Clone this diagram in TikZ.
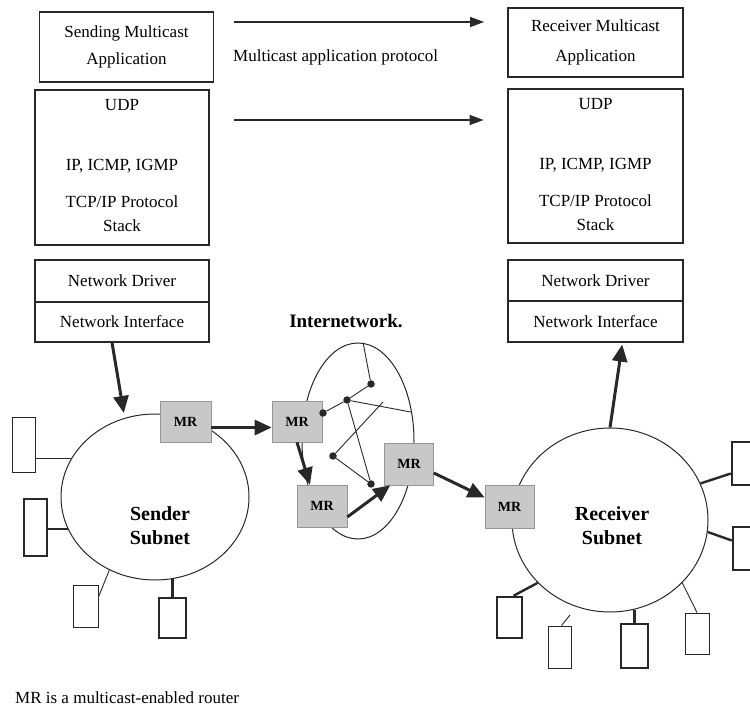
\documentclass[tikz,border=0pt]{standalone}
\usepackage{fontspec}
\setmainfont{Liberation Serif}
\usetikzlibrary{arrows.meta,shapes.geometric}
\definecolor{ink}{RGB}{40,40,40}
\definecolor{mrgray}{RGB}{200,200,200}
\tikzset{
  layer/.style={draw=ink,line width=1.2pt,minimum width=174pt,align=center,inner sep=0pt},
  router/.style={draw=mrgray!75!black,fill=mrgray,line width=0.6pt,minimum width=50pt,
    minimum height=42pt,font=\fontsize{14}{16}\selectfont\bfseries},
  subnet/.style={ellipse,draw=ink,line width=1pt,inner sep=0pt},
  hostthin/.style={draw=ink,line width=0.9pt,inner sep=0pt},
  hostthick/.style={draw=ink,line width=2.4pt,inner sep=0pt},
  peer/.style={ink,line width=1.2pt,-{Triangle[length=14pt,width=10pt]}},
  flow/.style={ink,line width=3pt,-{Triangle[length=17pt,width=15pt]}},
  hop/.style={circle,fill=ink,inner sep=0pt,minimum size=7.5pt},
  wire/.style={ink,line width=0.9pt},
  fatwire/.style={ink,line width=2.4pt},
  subtitle/.style={align=center,font=\fontsize{20}{24}\selectfont\bfseries},
}

\begin{document}
\begin{tikzpicture}[x=1pt,y=-1pt,font=\fontsize{17}{24}\selectfont]
  \useasboundingbox (0,0) rectangle (750,708);
  \clip (0,0) rectangle (750,708);

  % ---- sending host stack ----
  \node[layer,minimum height=70pt] (sapp) at (126.5,47) {Sending Multicast\\[3pt]Application};
  \node[layer,minimum height=155pt] (sstk) at (122,167.5) {};
  \node[align=center,inner sep=0pt,anchor=north] (sstktxt) at ([yshift=-10pt]sstk.north)
    {UDP\\[36pt]IP, ICMP, IGMP\\[13pt]TCP/IP Protocol\\Stack};
  \node[layer,minimum height=42pt] (sdrv) at (122,281) {Network Driver};
  \node[layer,minimum height=40pt] (snic) at (122,322) {Network Interface};

  % ---- receiving host stack ----
  \node[layer,minimum height=69pt,minimum width=175pt] (rapp) at (595.5,42.5) {Receiver Multicast\\[6pt]Application};
  \node[layer,minimum height=154pt,minimum width=175pt] (rstk) at (595.5,166) {};
  \node[align=center,inner sep=0pt,anchor=north] (rstktxt) at ([yshift=-10pt]rstk.north)
    {UDP\\[36pt]IP, ICMP, IGMP\\[13pt]TCP/IP Protocol\\Stack};
  \node[layer,minimum height=41pt,minimum width=175pt] (rdrv) at (595.5,280.5) {Network Driver};
  \node[layer,minimum height=41pt,minimum width=175pt] (rnic) at (595.5,321.5) {Network Interface};

  % ---- peer protocols ----
  \draw[peer] ([xshift=20pt,yshift=25pt]sapp.east) -- ++(250,0);
  \draw[peer] ([xshift=24pt,yshift=47.5pt]sstk.east) -- ++(250,0);
  \node[anchor=base west,inner sep=0pt] (proto) at (233,62) {Multicast application protocol};

  % ---- internetwork ----
  \node[anchor=base,inner sep=0pt,font=\fontsize{19}{22}\selectfont\bfseries] (inet) at (346,328) {Internetwork.};
  \node[subnet,minimum width=112pt,minimum height=196pt] (cloud) at (358,441) {};

  % ---- subnets ----
  \node[subnet,minimum width=188pt,minimum height=166pt] (ssub) at (155,497) {};
  \node[subtitle] (ssubtxt) at (160,526) {Sender\\Subnet};
  \node[subnet,minimum width=196pt,minimum height=184pt] (rsub) at (610,520) {};
  \node[subtitle] (rsubtxt) at (612,526) {Receiver\\Subnet};

  % ---- routers ----
  \node[router,minimum width=51pt,minimum height=41pt] (mr1) at (185.5,421.5) {MR};
  \node[router,minimum height=41pt] (mr2) at (297,421.5) {MR};
  \node[router] (mr3) at (322,506) {MR};
  \node[router,minimum width=49pt] (mr4) at (409,464) {MR};
  \node[router,minimum width=49pt,minimum height=43pt] (mr5) at (509.5,506.5) {MR};

  % ---- links inside the internetwork ----
  \node[hop] (n1) at (323,413) {};
  \node[hop] (n2) at (347,400) {};
  \node[hop] (n3) at (371,384) {};
  \node[hop] (n4) at (333,456) {};
  \node[hop] (n5) at (371,484) {};
  \coordinate (stub) at (383,402);
  \draw[wire] (n1) -- (n2) -- (n3) -- (cloud.87);
  \draw[wire] (n2) -- (cloud.28);
  \draw[wire] (n2) -- (n5) -- (n4) -- (stub);

  % ---- sender hosts ----
  \node[hostthin,minimum width=23pt,minimum height=55pt] (sh1) at (23.5,444.5) {};
  \node[hostthick,minimum width=23pt,minimum height=57pt] (sh2) at (35.5,527.5) {};
  \node[hostthin,minimum width=25pt,minimum height=42pt] (sh3) at (85.5,606) {};
  \node[hostthick,minimum width=27pt,minimum height=40pt] (sh4) at (172.5,618) {};
  \draw[wire] (ssub.155 -| sh1.east) -- (ssub.155);
  \draw[fatwire] (ssub.200 -| sh2.east) -- (ssub.200);
  \draw[wire] ([yshift=9pt]sh3.east) -- (ssub.238);
  \draw[fatwire] (sh4.north) -- (sh4.north |- ssub.282);

  % ---- receiver hosts ----
  \node[hostthick,minimum width=28pt,minimum height=43pt] (rh1) at (746,463.5) {};
  \node[hostthick,minimum width=28pt,minimum height=43pt] (rh2) at (747,548.5) {};
  \node[hostthick,minimum width=25pt,minimum height=41pt] (rh3) at (509.5,617.5) {};
  \node[hostthin,minimum width=23pt,minimum height=42pt] (rh4) at (559.5,647) {};
  \node[hostthick,minimum width=27pt,minimum height=44pt] (rh5) at (634.5,646) {};
  \node[hostthin,minimum width=24pt,minimum height=41pt] (rh6) at (697,633.5) {};
  \coordinate (rh4stub) at (570,615);
  \draw[fatwire] (rsub.22) -- ([yshift=-10pt]rh1.west);
  \draw[fatwire] (rsub.-7) -- ([yshift=8pt]rh2.west);
  \draw[fatwire] (rsub.221) -- ([xshift=4pt]rh3.north);
  \draw[wire] (rh4stub) -- ([xshift=2pt]rh4.north);
  \draw[fatwire] (rh5.north) -- (rh5.north |- rsub.285);
  \draw[wire] (rsub.-41) -- (rh6.north);

  % ---- multicast path ----
  \draw[flow,shorten >=5pt] ([xshift=-10pt]snic.south) -- (ssub.111);
  \draw[flow] ([yshift=-6pt]mr1.east) -- ([yshift=-6pt]mr2.west);
  \draw[flow] (mr2.south) -- ([xshift=-12pt]mr3.north);
  \draw[flow] ([yshift=-11pt]mr3.east) -- ([xshift=6pt]mr4.south west);
  \draw[flow] ([yshift=-9pt]mr4.east) -- ([yshift=9pt]mr5.west);
  \draw[flow,shorten >=2pt] (rsub.north) -- ([xshift=27pt]rnic.south);

  \node[anchor=base west,inner sep=0pt] (note) at (15,703) {MR is a multicast-enabled router};
\end{tikzpicture}
\end{document}
